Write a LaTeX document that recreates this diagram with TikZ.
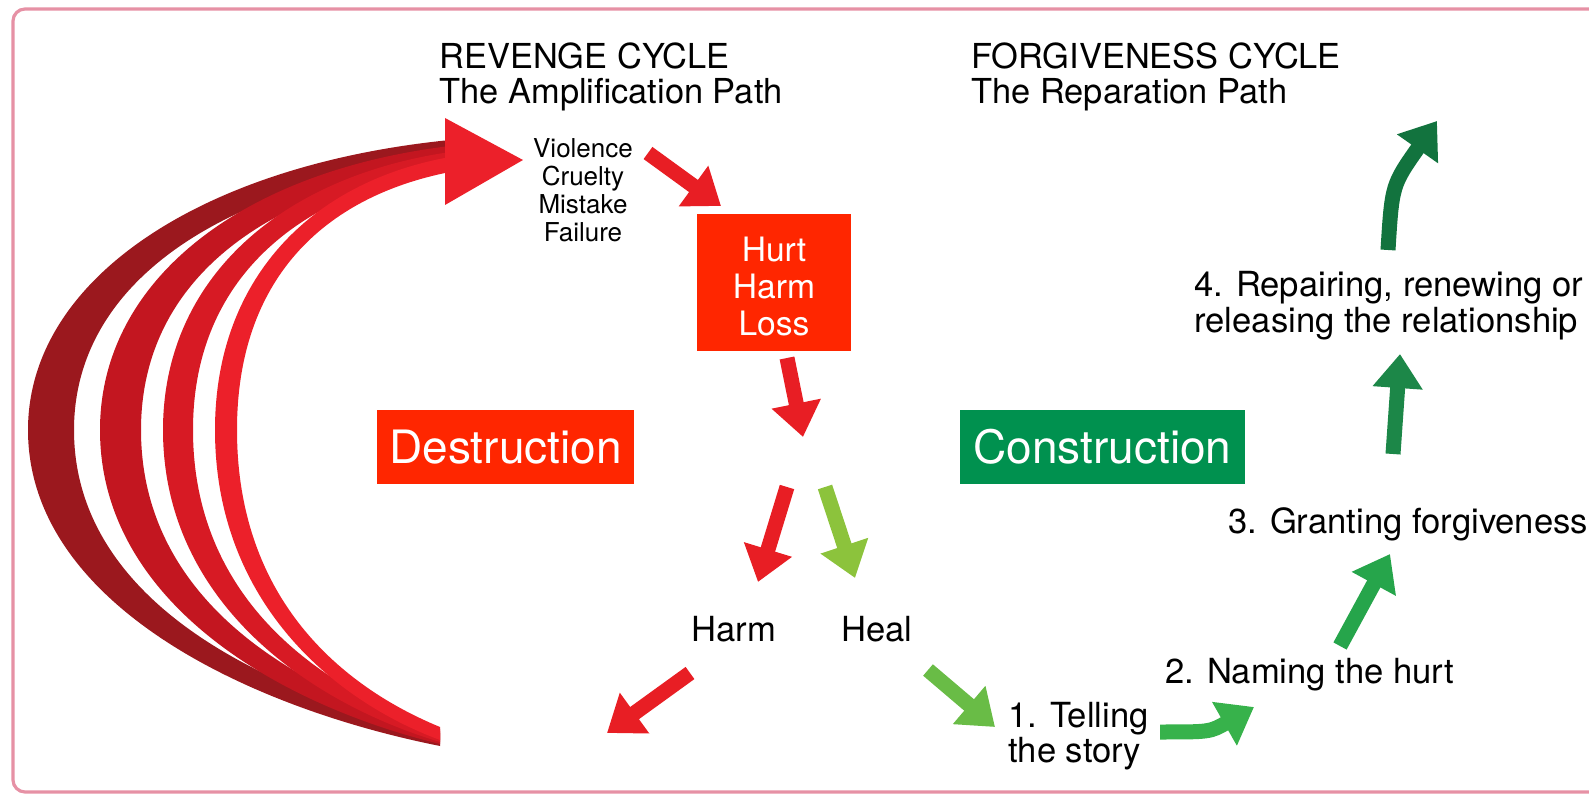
\documentclass[tikz,border=0pt]{standalone}
\usepackage{fontspec}
\setmainfont{TeX Gyre Heros}
\usetikzlibrary{arrows.meta}

\definecolor{boxred}{RGB}{255,38,0}
\definecolor{boxgreen}{RGB}{0,145,79}
\definecolor{framepink}{RGB}{230,145,165}
\definecolor{hurtred}{RGB}{232,30,36}
\definecolor{arcA}{RGB}{155,24,30}
\definecolor{arcB}{RGB}{195,22,32}
\definecolor{arcC}{RGB}{215,26,36}
\definecolor{arcD}{RGB}{236,32,42}
\definecolor{healA}{RGB}{140,195,60}
\definecolor{healB}{RGB}{105,188,70}
\definecolor{healC}{RGB}{55,178,75}
\definecolor{healD}{RGB}{38,165,75}
\definecolor{healE}{RGB}{28,135,72}
\definecolor{healF}{RGB}{18,115,62}

\begin{document}
\begin{tikzpicture}[x=0.5pt, y=-0.5pt,
  fatarrow/.style={draw=#1, line width=7.5pt, -{Triangle[length=17pt,width=24pt]}},
  heading/.style={anchor=north west, inner sep=0pt, align=left, font=\fontsize{17.2}{17.5}\selectfont},
  steptext/.style={inner sep=0pt, align=left, font=\fontsize{17.3}{17.5}\selectfont},
  colorbox/.style={fill=#1, text=white, inner sep=0pt, align=center}]
\useasboundingbox (0,0) rectangle (1589,795);
\draw[framepink, line width=1.6pt, rounded corners=6pt] (1589,9) -- (13,9) -- (13,792) -- (1589,792);

% revenge loop: four crescents, outer and inner edge of each
\foreach \lo/\li/\ta/\tb/\ba/\bb/\col in {28/74/140/158/746/733/arcA, 100/141/146/164/744/731/arcB,
    163/193/152/168/742/729/arcC, 215/237/157/172/740/727/arcD}
  \fill[\col] (440,\ba) .. controls ({445-(445-\lo)/417*205},{\ba-40}) and (\lo,600) .. (\lo,430)
    .. controls (\lo,280) and ({445-(445-\lo)/417*245},{\ta+25}) .. (450,\ta)
    -- (450,\tb) .. controls ({445-(445-\li)/417*245},{\tb+25}) and (\li,280) .. (\li,430)
    .. controls (\li,600) and ({445-(445-\li)/417*205},{\bb-40}) .. (440,\bb) -- cycle;
\fill[arcD] (445,118) -- (523,160) -- (445,205) -- cycle;

% texts
\node[heading] (revenge) at (439,42) {REVENGE CYCLE\\The Amplification Path};
\node[heading] (forgive) at (971,42) {FORGIVENESS CYCLE\\The Reparation Path};
\node[anchor=north, inner sep=0pt, align=center, font=\fontsize{13}{14}\selectfont] (causes) at (583,138) {Violence\\Cruelty\\Mistake\\Failure};
\node[colorbox=boxred, minimum width=77pt, minimum height=68.5pt, font=\fontsize{16.8}{18.5}\selectfont] (hurt) at (774,282.5) {\rule{0pt}{16pt}Hurt\\Harm\\Loss};
\node[colorbox=boxred, minimum width=128.5pt, minimum height=37pt, font=\fontsize{23}{23}\selectfont] (destruction) at (505.5,447) {Destruction};
\node[colorbox=boxgreen, minimum width=142.5pt, minimum height=37pt, font=\fontsize{23}{23}\selectfont] (construction) at (1102.5,447) {Construction};
\node[steptext, anchor=base] (harm) at (734,641) {Harm};
\node[steptext, anchor=base] (heal) at (877,641) {Heal};
\node[steptext, anchor=north west] (step1) at (1008,702) {1. Telling\\the story};
\node[steptext, anchor=base west] (step2) at (1165,683) {2. Naming the hurt};
\node[steptext, anchor=base west] (step3) at (1228,534) {3. Granting forgiveness};
\node[steptext, anchor=north west, font=\fontsize{17.3}{18}\selectfont] (step4) at (1194,271) {4. Repairing, renewing or\\releasing the relationship};

% arrow ends
\coordinate (a1s) at (648,153);  \coordinate (a1e) at (721,206);
\coordinate (a2s) at (787,358);  \coordinate (a2e) at (803,437);
\coordinate (a3s) at (787,487);  \coordinate (a3e) at (758,582);
\coordinate (a4s) at (825,487);  \coordinate (a4e) at (855,578);
\coordinate (a5s) at (690,673);  \coordinate (a5e) at (607,733);
\coordinate (a6s) at (928,670);  \coordinate (a6e) at (995,727);
\coordinate (a7s) at (1160,732); \coordinate (a7e) at (1254,707);
\coordinate (a8s) at (1340,646); \coordinate (a8e) at (1390,554);
\coordinate (a9s) at (1393,454); \coordinate (a9e) at (1400,354);
\coordinate (a10s) at (1388,250); \coordinate (a10e) at (1437,121);

\foreach \s/\e/\c in {a1s/a1e/hurtred, a2s/a2e/hurtred, a3s/a3e/hurtred, a4s/a4e/healA,
    a5s/a5e/hurtred, a6s/a6e/healB, a8s/a8e/healD, a9s/a9e/healE}
  \draw[fatarrow=\c] (\s) -- (\e);
\draw[fatarrow=healC] (a7s) .. controls (1210,732) .. (a7e);
\draw[fatarrow=healF] (a10s) .. controls (1392,185) .. (a10e);
\end{tikzpicture}
\end{document}
